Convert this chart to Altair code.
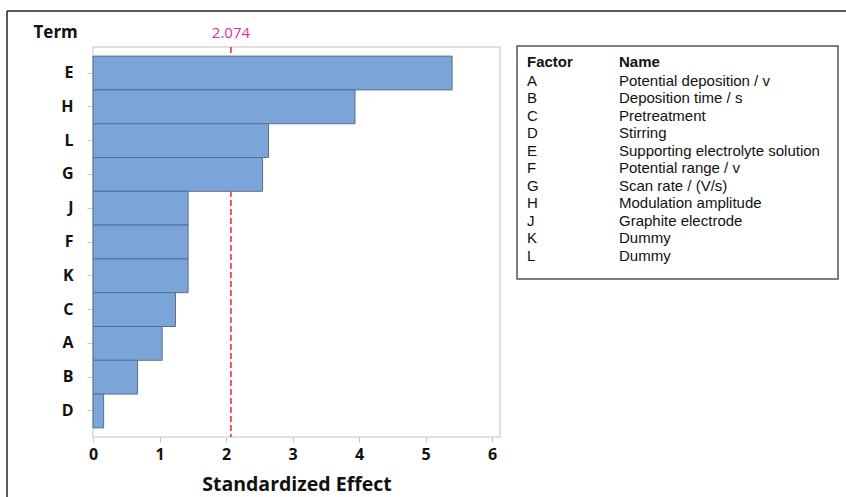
import altair as alt
import pandas as pd

# Pareto of standardized effects
terms = ["E", "H", "L", "G", "J", "F", "K", "C", "A", "B", "D"]
effects = [5.40, 3.94, 2.64, 2.55, 1.43, 1.43, 1.43, 1.24, 1.04, 0.67, 0.16]
critical_value = 2.074

# Factor key
factor_codes = ["A", "B", "C", "D", "E", "F", "G", "H", "J", "K", "L"]
factor_names = [
    "Potential deposition / v",
    "Deposition time / s",
    "Pretreatment",
    "Stirring",
    "Supporting electrolyte solution",
    "Potential range / v",
    "Scan rate / (V/s)",
    "Modulation amplitude",
    "Graphite electrode",
    "Dummy",
    "Dummy",
]

effects_df = pd.DataFrame({"Term": terms, "Effect": effects})
ref_df = pd.DataFrame({"value": [critical_value], "label": [f"{critical_value:.3f}"]})
key_df = pd.DataFrame({"Factor": factor_codes, "Name": factor_names})

W, H = 407, 390
BOLD_FONT = "Open Sans"
KEY_FONT = "Liberation Sans"

x_scale = alt.Scale(domain=[0, 6.12], nice=False, zero=True)

bars = alt.Chart(effects_df).mark_bar(
    color="#7BA5D8", stroke="#5A6F8C", strokeWidth=1
).encode(
    x=alt.X(
        "Effect:Q",
        scale=x_scale,
        axis=alt.Axis(
            values=[0, 1, 2, 3, 4, 5, 6],
            format="d",
            title="Standardized Effect",
            titleFont=BOLD_FONT,
            titleFontSize=19.5,
            titleFontWeight="bold",
            titleColor="#111",
            titleY=47,
            titleBaseline="middle",
            labelFont=BOLD_FONT,
            labelFontSize=16,
            labelFontWeight="bold",
            labelColor="#111",
            labelPadding=4,
            labelFlush=False,
            tickColor="#C8C8C8",
            tickSize=5,
            domain=False,
            grid=False,
        ),
    ),
    y=alt.Y(
        "Term:N",
        sort=terms,
        scale=alt.Scale(paddingInner=0, paddingOuter=0.27),
        axis=alt.Axis(
            title="Term",
            titleAngle=0,
            titleAlign="left",
            titleBaseline="middle",
            titleX=-60,
            titleY=-15,
            titleFont=BOLD_FONT,
            titleFontSize=17,
            titleFontWeight="bold",
            titleColor="#111",
            labelFont=BOLD_FONT,
            labelFontSize=16,
            labelFontWeight="bold",
            labelColor="#111",
            labelPadding=14,
            tickColor="#C8C8C8",
            tickSize=6,
            domain=False,
            grid=False,
        ),
    ),
)

ref_rule = alt.Chart(ref_df).mark_rule(
    color="#E8333C", strokeDash=[6, 3], strokeWidth=1.6
).encode(x=alt.X("value:Q", scale=x_scale))

ref_label = alt.Chart(ref_df).mark_text(
    color="#D6359F", font=BOLD_FONT, fontSize=15, baseline="middle", align="center"
).encode(
    x=alt.X("value:Q", scale=x_scale),
    y=alt.value(-14),
    text="label:N",
)

# Key box beside the plot
key_box = alt.Chart(ref_df).mark_rect(
    fill="white", stroke="#555", strokeWidth=1.5
).encode(
    x=alt.value(424), x2=alt.value(745), y=alt.value(-1), y2=alt.value(232)
)

key_header = alt.Chart(pd.DataFrame({"c": ["Factor", "Name"], "px": [434, 526]})).mark_text(
    font=KEY_FONT, fontSize=15, fontWeight="bold", align="left", baseline="middle", color="#111"
).encode(
    x=alt.X("px:Q", scale=None),
    y=alt.value(14.7),
    text="c:N",
)

key_codes = alt.Chart(key_df).mark_text(
    font=KEY_FONT, fontSize=15, align="left", baseline="middle", color="#111"
).encode(
    x=alt.value(434),
    y=alt.Y(
        "Factor:N",
        scale=alt.Scale(type="point", domain=factor_codes, range=[34, 208.7], padding=0),
        axis=None,
    ),
    text="Factor:N",
)

key_names = alt.Chart(key_df).mark_text(
    font=KEY_FONT, fontSize=15, align="left", baseline="middle", color="#111"
).encode(
    x=alt.value(526),
    y=alt.Y(
        "Factor:N",
        scale=alt.Scale(type="point", domain=factor_codes, range=[34, 208.7], padding=0),
        axis=None,
    ),
    text="Name:N",
)

# Outer frame edges
frame_top = alt.Chart(ref_df).mark_rule(color="#222", strokeWidth=1.5).encode(
    x=alt.value(-86), x2=alt.value(760), y=alt.value(-36)
)
frame_left = alt.Chart(ref_df).mark_rule(color="#222", strokeWidth=1.5).encode(
    x=alt.value(-86), y=alt.value(-36), y2=alt.value(460)
)

chart = (
    alt.layer(ref_rule, bars, ref_label, frame_top, frame_left, key_box, key_header, key_codes, key_names)
    .resolve_scale(y="independent", x="shared")
    .properties(
        width=W,
        height=H,
        autosize=alt.AutoSizeParams(type="none"),
        padding={"left": 93, "top": 47, "right": 346, "bottom": 60},
        background="white",
    )
    .configure_view(stroke="#D6D6D6", strokeWidth=1.5)
)

chart.save("out.html", embed_options={"renderer": "svg", "actions": False})
